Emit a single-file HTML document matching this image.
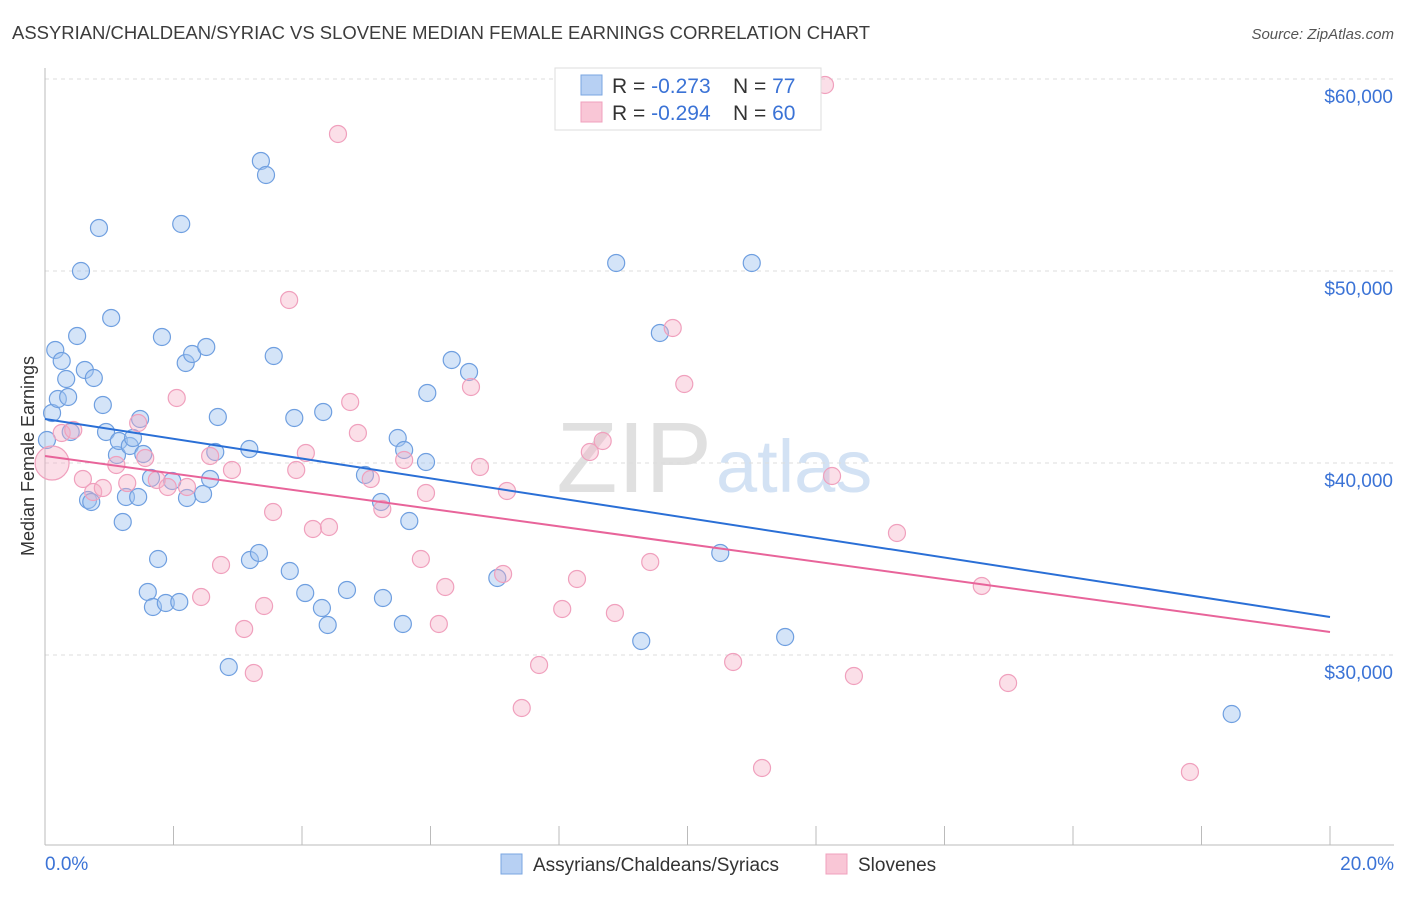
<!DOCTYPE html>
<html><head><meta charset="utf-8"><style>
body{margin:0;background:#fff;font-family:"Liberation Sans",sans-serif;}
svg text{font-family:"Liberation Sans",sans-serif;}
</style></head><body>
<svg id="chart" width="1406" height="892" xmlns="http://www.w3.org/2000/svg">
<text x="12" y="39" font-size="18" fill="#3c3c3c" textLength="858" lengthAdjust="spacingAndGlyphs">ASSYRIAN/CHALDEAN/SYRIAC VS SLOVENE MEDIAN FEMALE EARNINGS CORRELATION CHART</text>
<text x="1394" y="39" font-size="15" fill="#555" text-anchor="end" font-style="italic">Source: ZipAtlas.com</text>
<text x="712" y="492" font-size="100" fill="#e0e0e0" text-anchor="end" font-family="Liberation Serif">ZIP</text>
<text x="716" y="492" font-size="74" fill="#d3e2f4">atlas</text>
<text transform="translate(34,456) rotate(-90)" font-size="18" fill="#333" text-anchor="middle">Median Female Earnings</text>
<g id="grid"></g><g id="axes"></g><g id="marks"></g>
<g>
<rect x="555" y="68" width="266" height="62" fill="#fff" stroke="#ddd"/>
<rect x="581" y="75" width="21" height="20" fill="#b7d0f3" stroke="#7aa6e0"/>
<rect x="581" y="102" width="21" height="20" fill="#f9c6d6" stroke="#f0a0bd"/>
<text x="612" y="93" font-size="21" fill="#333">R = <tspan fill="#3b73d6">-0.273</tspan></text>
<text x="733" y="93" font-size="21" fill="#333">N = <tspan fill="#3b73d6"> 77</tspan></text>
<text x="612" y="120" font-size="21" fill="#333">R = <tspan fill="#3b73d6">-0.294</tspan></text>
<text x="733" y="120" font-size="21" fill="#333">N = <tspan fill="#3b73d6">60</tspan></text>
</g>
<g>
<rect x="501" y="854" width="21" height="20" fill="#b7d0f3" stroke="#7aa6e0"/>
<text x="533" y="871" font-size="19" fill="#333">Assyrians/Chaldeans/Syriacs</text>
<rect x="826" y="854" width="21" height="20" fill="#f9c6d6" stroke="#f0a0bd"/>
<text x="858" y="871" font-size="19" fill="#333">Slovenes</text>
</g>
</svg>
<script>
const blueX=[0.11,0.16,0.26,0.20,0.36,0.33,0.40,0.56,0.50,0.62,0.76,0.84,0.90,0.67,0.72,0.95,1.03,1.12,1.15,1.21,1.26,1.32,1.37,1.45,1.48,1.53,1.65,1.76,1.60,1.68,1.82,1.88,1.98,2.09,2.12,2.19,2.21,2.29,2.46,2.51,2.57,2.65,2.69,2.86,3.18,3.19,3.33,3.36,3.44,3.56,3.81,3.88,4.05,4.31,4.33,4.40,4.70,4.98,5.23,5.26,5.49,5.57,5.59,5.67,5.93,5.95,6.33,6.60,7.04,8.89,9.28,9.57,10.51,11.00,11.52,18.47,0.03];
const blueY=[42605,45886,45313,43334,43438,44375,41615,50000,46615,44844,44427,52240,43021,38073,37969,41615,47553,40417,41146,36928,38230,40886,41302,38230,42292,40469,39219,35000,33282,32500,46563,32709,39063,32761,52448,45209,38177,45677,38386,46042,39167,40573,42396,29375,40729,34948,35313,55730,55000,45573,34375,42344,33229,32448,42657,31563,33386,39375,37969,32969,41302,31615,40677,36979,40052,43646,45365,44740,34011,50417,30730,46771,35313,50417,30938,26927,41198];
const pinkX=[0.11,0.26,0.44,0.59,0.75,0.90,1.11,1.28,1.45,1.56,1.74,1.91,2.05,2.21,2.43,2.57,2.74,2.91,3.10,3.25,3.41,3.55,3.80,3.91,4.06,4.17,4.42,4.56,4.75,4.87,5.07,5.25,5.59,5.85,5.93,6.13,6.23,6.63,6.77,7.13,7.19,7.42,7.69,8.05,8.28,8.48,8.68,8.87,9.42,9.77,9.95,10.71,11.16,12.14,12.25,12.59,13.26,14.58,14.99,17.82];
const pinkY=[40000,41563,41719,39167,38490,38698,39896,38958,42084,40261,39115,38751,43386,38751,33021,40365,34688,39636,31355,29063,32552,37448,48490,39636,40521,36563,36667,57136,43177,41563,39167,37604,40157,35000,38438,31615,33542,43959,39792,34219,38542,27240,29480,32396,33959,40573,41146,32188,34844,47032,44115,29636,24115,59688,39323,28907,36355,33595,28542,23907];
const blueTrend=[42292,31979];
const pinkTrend=[40365,31198];
const yTicks=[30000,40000,50000,60000];
const yTickLabels=["$30,000","$40,000","$50,000","$60,000"];
const xTicks=[0,2,4,6,8,10,12,14,16,18,20];

const NS="http://www.w3.org/2000/svg";
const X0=45,X1=1330;
const sx=v=>X0+(v/20)*(X1-X0);
const sy=v=>79+(60000-v)/10000*192;
function mk(tag,attrs,parent){const e=document.createElementNS(NS,tag);for(const k in attrs)e.setAttribute(k,attrs[k]);parent.appendChild(e);return e;}
const grid=document.getElementById('grid'),axes=document.getElementById('axes'),marks=document.getElementById('marks');
yTicks.forEach((t,i)=>{
  const l=mk('line',{x1:X0,x2:1394,y1:sy(t),y2:sy(t),stroke:'#ddd','stroke-dasharray':'4,4'},grid);
  
  
  const tx=mk('text',{x:1393,y:sy(t)+24,'font-size':19,fill:'#3b73d6','text-anchor':'end'},axes);
  tx.textContent=yTickLabels[i];
  
  
});
const ax=mk('line',{x1:X0,x2:1394,y1:845,y2:845,stroke:'#bbb'},axes);


const ay=mk('line',{x1:X0,x2:X0,y1:68,y2:845,stroke:'#bbb'},axes);


xTicks.forEach(t=>{
  const l=mk('line',{x1:sx(t),x2:sx(t),y1:826,y2:845,stroke:'#bbb'},axes);
  
  
});
const xl0=mk('text',{x:45,y:870,'font-size':19,fill:'#3b73d6'},axes);xl0.textContent='0.0%';


const xl1=mk('text',{x:1394,y:870,'font-size':19,fill:'#3b73d6','text-anchor':'end'},axes);xl1.textContent='20.0%';



blueX.forEach((x,i)=>{
  const c=mk('circle',{cx:sx(x),cy:sy(blueY[i]),r:8.5,fill:'rgba(160,196,240,0.45)',stroke:'#6f9fe0','stroke-width':1.2},marks);
  
  
});
pinkX.forEach((x,i)=>{
  const c=mk('circle',{cx:sx(x),cy:sy(pinkY[i]),r:i===0?17:8.5,fill:'rgba(246,175,198,0.4)',stroke:'#f0a0bd','stroke-width':1.2},marks);
  
  
});
const bl=mk('line',{x1:sx(0),y1:sy(blueTrend[0]),x2:sx(20),y2:sy(blueTrend[1]),stroke:'#2a6fd6','stroke-width':2},marks);


const pl=mk('line',{x1:sx(0),y1:sy(pinkTrend[0]),x2:sx(20),y2:sy(pinkTrend[1]),stroke:'#e8649a','stroke-width':2},marks);


</script>
</body></html>
